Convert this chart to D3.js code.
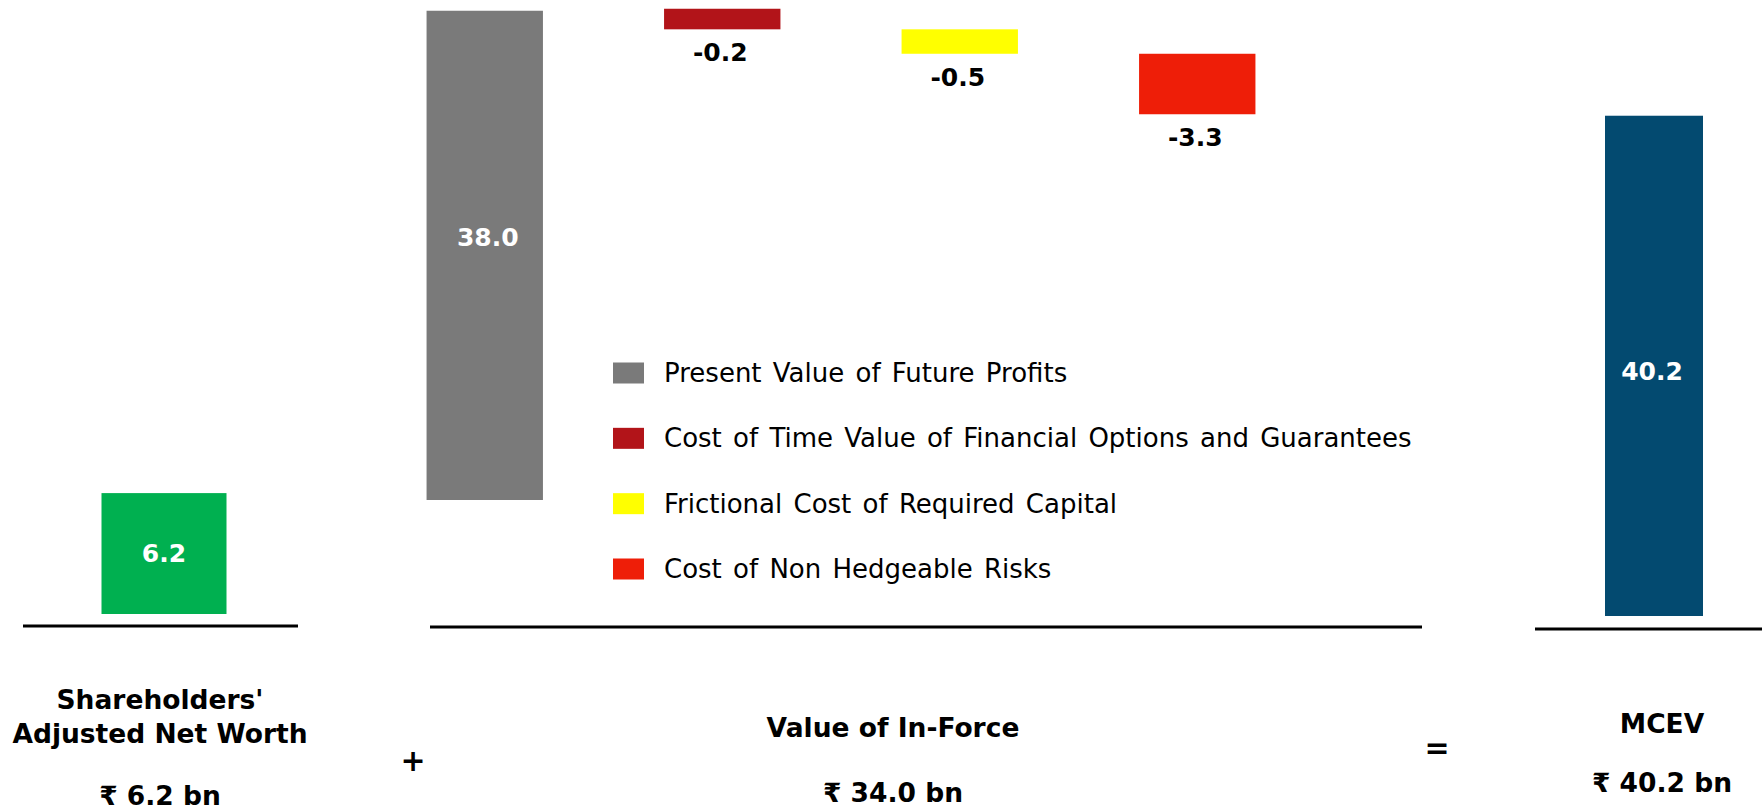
<html lang="en">
<head>
  <meta charset="utf-8">
  <title>MCEV build-up</title>
  <script src="https://d3js.org/d3.v7.min.js"></script>
  <style>
    body { margin: 0; background: #fff; }
    svg { display: block; }
    text { font-family: "DejaVu Sans", Verdana, sans-serif; }
  </style>
</head>
<body>
<svg id="chart"></svg>
<script>
// values (Rs bn)
var netWorth = 6.2;
var vifCategories = [
  "Present Value of Future Profits",
  "Cost of Time Value of Financial Options and Guarantees",
  "Frictional Cost of Required Capital",
  "Cost of Non Hedgeable Risks"
];
var vifValues = [38.0, -0.2, -0.5, -3.3];
var mcev = 40.2;

// bottom captions
var panelTitles = [["Shareholders'", "Adjusted Net Worth"], ["Value of In-Force"], ["MCEV"]];
var panelTotals = ["\u20B9 6.2 bn", "\u20B9 34.0 bn", "\u20B9 40.2 bn"];
var operators = ["+", "="];

var vifColors = ["#7a7a7a", "#b21419", "#ffff00", "#ee1e08"];
var nwColor = "#00b050";
var mcevColor = "#034a70";

var config = { w: 1764, h: 809 };

var svg = d3.select("#chart")
  .attr("width", config.w)
  .attr("height", config.h);

// each panel on the slide has its own vertical scale
var yNW = d3.scaleLinear().domain([0, 10]).range([614, 419]);
var yVIF = d3.scaleLinear().domain([0, 40]).range([500, -15]);
var yMCEV = d3.scaleLinear().domain([0, 45]).range([616, 56]);

// middle panel columns
var x = d3.scaleBand()
  .domain(vifCategories)
  .range([366, 1316])
  .paddingInner(0.51)
  .paddingOuter(0.255);

// ground lines under each panel
var grounds = [
  { x1: 23, x2: 298, y: 626 },
  { x1: 430, x2: 1422, y: 627 },
  { x1: 1535, x2: 1762, y: 629 }
];
svg.selectAll("line.ground")
  .data(grounds)
  .enter()
  .append("line")
    .attr("class", "ground")
    .attr("x1", function(d) { return d.x1; })
    .attr("x2", function(d) { return d.x2; })
    .attr("y1", function(d) { return d.y; })
    .attr("y2", function(d) { return d.y; })
    .attr("stroke", "#000")
    .attr("stroke-width", 3);

function valueLabel(g, cx, cy, txt, fill) {
  g.append("text")
    .attr("x", cx)
    .attr("y", cy)
    .attr("text-anchor", "middle")
    .attr("dominant-baseline", "central")
    .attr("font-size", 25)
    .attr("font-weight", "bold")
    .attr("fill", fill)
    .text(txt);
}

// left panel: adjusted net worth
var nwBar = { cx: 164, bw: 125 };
svg.append("rect")
  .attr("x", nwBar.cx - nwBar.bw / 2)
  .attr("y", yNW(netWorth))
  .attr("width", nwBar.bw)
  .attr("height", yNW(0) - yNW(netWorth))
  .attr("fill", nwColor);
valueLabel(svg, nwBar.cx, (yNW(0) + yNW(netWorth)) / 2, netWorth.toFixed(1), "#fff");

// middle panel: waterfall; the small deductions get a fixed extra height
var stepPad = 18;
var cursor = yVIF(vifValues[0]) - 2;
var steps = vifValues.map(function(v, i) {
  if (i === 0) {
    return { v: v, y0: yVIF(v), y1: yVIF(0), c: vifCategories[i], color: vifColors[i] };
  }
  var h = (yVIF(0) - yVIF(Math.abs(v))) + stepPad;
  var s = { v: v, y0: cursor, y1: cursor + h, c: vifCategories[i], color: vifColors[i] };
  cursor = cursor + h;
  return s;
});

var vif = svg.append("g").attr("id", "vif");
vif.selectAll("rect")
  .data(steps)
  .enter()
  .append("rect")
    .attr("x", function(d) { return x(d.c); })
    .attr("y", function(d) { return d.y0; })
    .attr("width", x.bandwidth())
    .attr("height", function(d) { return d.y1 - d.y0; })
    .attr("fill", function(d) { return d.color; });

steps.forEach(function(d, i) {
  var cx = x(d.c) + x.bandwidth() / 2;
  if (i === 0) {
    valueLabel(vif, cx + 3, (d.y0 + d.y1) / 2 - 18, d.v.toFixed(1), "#fff");
  } else {
    vif.append("text")
      .attr("x", cx - 2)
      .attr("y", d.y1 + 32)
      .attr("text-anchor", "middle")
      .attr("font-size", 25)
      .attr("font-weight", "bold")
      .attr("fill", "#000")
      .text(d.v.toFixed(1));
  }
});

// legend
var legendY = d3.scalePoint().domain(vifCategories).range([373, 569]);
var legend = svg.append("g").attr("id", "legend");
legend.selectAll("rect")
  .data(vifCategories)
  .enter()
  .append("rect")
    .attr("x", 613)
    .attr("y", function(d) { return legendY(d) - 10.5; })
    .attr("width", 31)
    .attr("height", 21)
    .attr("fill", function(d, i) { return vifColors[i]; });
legend.selectAll("text")
  .data(vifCategories)
  .enter()
  .append("text")
    .attr("x", 664)
    .attr("y", function(d) { return legendY(d); })
    .attr("dominant-baseline", "central")
    .attr("font-size", 26)
    .attr("word-spacing", 3)
    .attr("fill", "#000")
    .text(function(d) { return d; });

// right panel: MCEV
var mcevBar = { cx: 1654, bw: 98 };
svg.append("rect")
  .attr("x", mcevBar.cx - mcevBar.bw / 2)
  .attr("y", yMCEV(mcev))
  .attr("width", mcevBar.bw)
  .attr("height", yMCEV(0) - yMCEV(mcev))
  .attr("fill", mcevColor);
valueLabel(svg, mcevBar.cx - 2, (yMCEV(0) + yMCEV(mcev)) / 2 + 6, mcev.toFixed(1), "#fff");

// captions under the panels
var captions = [
  { cx: 160, lines: [709, 743], total: 805 },
  { cx: 893, lines: [737], total: 802 },
  { cx: 1662, lines: [733], total: 792 }
];
captions.forEach(function(c, i) {
  panelTitles[i].forEach(function(t, j) {
    svg.append("text")
      .attr("x", c.cx)
      .attr("y", c.lines[j])
      .attr("text-anchor", "middle")
      .attr("font-size", 26.5)
      .attr("font-weight", "bold")
      .text(t);
  });
  svg.append("text")
    .attr("x", c.cx)
    .attr("y", c.total)
    .attr("text-anchor", "middle")
    .attr("font-size", 26.5)
    .attr("font-weight", "bold")
    .text(panelTotals[i]);
});

// plus and equals between panels
var opPos = [{ x: 413, y: 760 }, { x: 1437, y: 747 }];
svg.selectAll("text.op")
  .data(operators)
  .enter()
  .append("text")
    .attr("class", "op")
    .attr("x", function(d, i) { return opPos[i].x; })
    .attr("y", function(d, i) { return opPos[i].y; })
    .attr("text-anchor", "middle")
    .attr("dominant-baseline", "central")
    .attr("font-size", 30)
    .attr("font-weight", "bold")
    .text(function(d) { return d; });
</script>
</body>
</html>
